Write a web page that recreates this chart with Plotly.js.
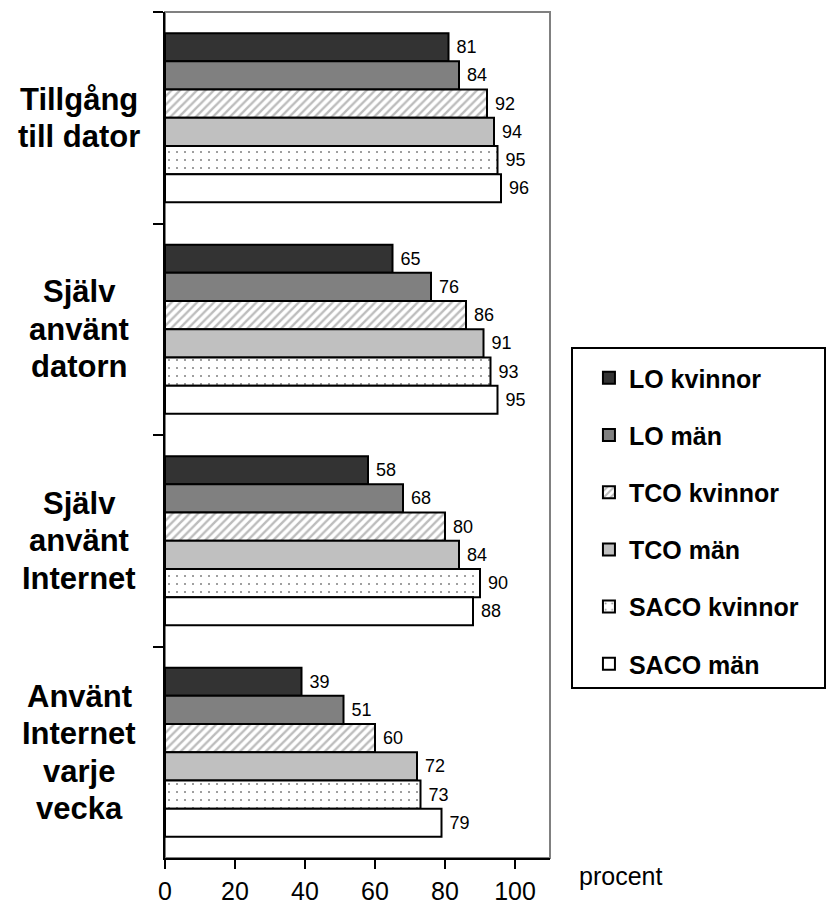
<!DOCTYPE html>
<html>
<head>
<meta charset="utf-8">
<script src="https://cdn.plot.ly/plotly-3.0.1.min.js"></script>
<style>html,body{margin:0;padding:0;background:#fff;}#chart{width:826px;height:909px;}</style>
</head>
<body>
<div id="chart"></div>
<script>
const categories = ["Tillgång\ntill dator", "Själv\nanvänt\ndatorn", "Själv\nanvänt\nInternet", "Använt\nInternet\nvarje\nvecka"];
const seriesNames = ["LO kvinnor", "LO män", "TCO kvinnor", "TCO män", "SACO kvinnor", "SACO män"];
const loKvinnor   = [81, 65, 58, 39];
const loMan       = [84, 76, 68, 51];
const tcoKvinnor  = [92, 86, 80, 60];
const tcoMan      = [94, 91, 84, 72];
const sacoKvinnor = [95, 93, 90, 73];
const sacoMan     = [96, 95, 88, 79];
const xTicks = [0, 20, 40, 60, 80, 100];
const xLabel = "procent";

const FONT = "Liberation Sans, Arial, sans-serif";
const values = [loKvinnor, loMan, tcoKvinnor, tcoMan, sacoKvinnor, sacoMan];
const catKeys = categories.map((c, i) => "c" + i);
const styles = [
  {color: "#333333"},
  {color: "#808080"},
  {color: "#ffffff", pattern: {shape: "/", fgcolor: "#7a7a7a", bgcolor: "#ffffff", size: 6, solidity: 0.4, fillmode: "overlay"}},
  {color: "#c0c0c0"},
  {color: "#ffffff", pattern: {shape: ".", fgcolor: "#000000", bgcolor: "#ffffff", size: 8, solidity: 0.05, fillmode: "overlay"}},
  {color: "#ffffff"}
];

const traces = seriesNames.map((name, i) => ({
  type: "bar",
  orientation: "h",
  name: name,
  legendgroup: "g" + i,
  x: values[i],
  y: catKeys,
  text: values[i].map(String),
  texttemplate: "\u00a0%{x}",
  textposition: "outside",
  cliponaxis: false,
  textfont: {family: FONT, size: 18, color: "#000"},
  marker: Object.assign({line: {color: "#000", width: 2}}, styles[i]),
  hoverinfo: "skip"
}));

const annotations = [];
categories.forEach((c, ci) => {
  const lines = c.split("\n");
  const n = lines.length;
  lines.forEach((ln, li) => {
    annotations.push({
      xref: "paper", yref: "y", x: -0.223, y: catKeys[ci],
      text: ln, showarrow: false, xanchor: "center", yanchor: "middle",
      yshift: ((n - 1) / 2 - li) * 37.5,
      font: {family: FONT, size: 31, color: "#000", weight: "bold"}
    });
  });
});
annotations.push({
  xref: "paper", yref: "paper", x: 1.07, y: -0.021, xanchor: "left", yanchor: "middle",
  text: xLabel, showarrow: false, font: {family: FONT, size: 25, color: "#000"}
});

const layout = {
  width: 826, height: 909,
  margin: {l: 165, r: 276, t: 12, b: 51},
  paper_bgcolor: "#fff", plot_bgcolor: "#fff",
  barmode: "group", bargap: 0.2, bargroupgap: 0,
  showlegend: true,
  font: {family: FONT, color: "#000"},
  xaxis: {
    range: [0, 110], tickvals: xTicks, ticktext: xTicks.map(String),
    showgrid: false, zeroline: false, showline: true, linecolor: "#000", linewidth: 2,
    ticks: "outside", ticklen: 9, tickwidth: 2, tickcolor: "#000", ticklabelstandoff: 1,
    tickfont: {family: FONT, size: 25, color: "#000"}, fixedrange: true
  },
  yaxis: {
    type: "category", categoryarray: catKeys, range: [3.5, -0.5],
    showticklabels: false, tickson: "boundaries",
    showgrid: false, zeroline: false, showline: true, linecolor: "#000", linewidth: 2,
    ticks: "outside", ticklen: 10, tickwidth: 2, tickcolor: "#000", fixedrange: true
  },
  shapes: [
    {type: "rect", xref: "paper", yref: "paper", x0: 0, x1: 1, y0: 0, y1: 1,
     line: {color: "#808080", width: 2}, layer: "below"},
    {type: "rect", xref: "paper", yref: "paper",
     x0: (572 - 165) / 385, x1: (825 - 165) / 385, y0: (858 - 688) / 846, y1: (858 - 348) / 846,
     line: {color: "#000", width: 2}, fillcolor: "rgba(0,0,0,0)", layer: "above"}
  ],
  legend: {
    x: 1.057, y: 0.5945, xanchor: "left", yanchor: "top",
    bgcolor: "rgba(0,0,0,0)", borderwidth: 0, indentation: 17,
    traceorder: "grouped", tracegroupgap: 21.7,
    font: {family: FONT, size: 25, color: "#000", weight: "bold"}
  },
  annotations: annotations
};

Plotly.newPlot("chart", traces, layout, {displayModeBar: false, staticPlot: true});
</script>
</body>
</html>
